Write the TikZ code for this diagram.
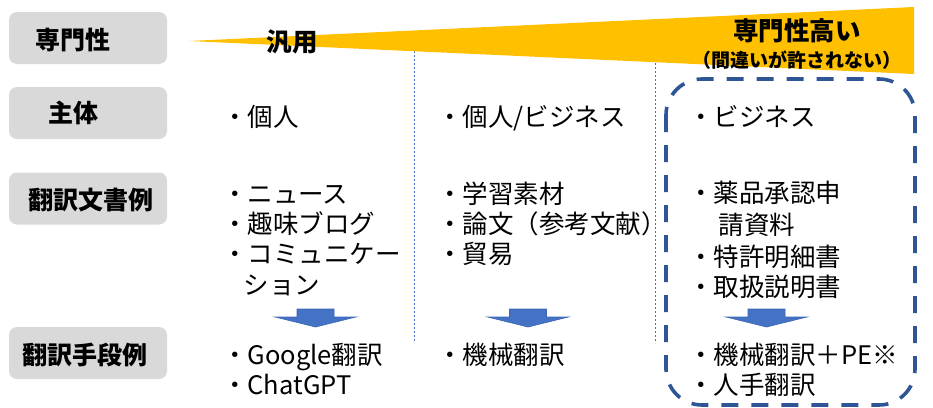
\documentclass[tikz,border=0pt]{standalone}
\usepackage{fontspec}
\setmainfont{Noto Sans CJK JP}
\definecolor{lblgray}{HTML}{D9D9D9}
\definecolor{wedgeyellow}{HTML}{FFC000}
\definecolor{sepblue}{HTML}{4472C4}
\definecolor{boxblue}{HTML}{2F5597}
\definecolor{arrowblue}{HTML}{4472C4}
\definecolor{arrowedge}{HTML}{3A66B5}
\tikzset{
  lblbox/.style={fill=lblgray, rounded corners=8pt, minimum width=158pt, minimum height=52pt, inner sep=0pt},
  lbltext/.style={font=\fontsize{25}{28}\selectfont\bfseries, inner sep=0pt},
  headtext/.style={font=\fontsize{25.5}{28}\selectfont\bfseries, inner sep=0pt},
  subtext/.style={font=\fontsize{19}{22}\selectfont\bfseries, inner sep=0pt},
  item/.style={font=\fontsize{25.5}{30}\selectfont, anchor=west, inner sep=0pt, text height=22.5pt, text depth=3pt},
  sepline/.style={draw=sepblue, line width=0.8pt, dash pattern=on 2pt off 2pt},
  dashbox/.style={draw=boxblue, line width=3.6pt, dash pattern=on 17pt off 13pt, rounded corners=36pt},
  blockarrow/.pic={
    \filldraw[fill=arrowblue, draw=arrowedge, line width=0.6pt]
      (-18.5,0) -- (18.5,0) -- (18.5,8) -- (40.5,8) -- (0,18) -- (-40.5,8) -- (-18.5,8) -- cycle;
  }
}
\begin{document}
\begin{tikzpicture}[x=1pt,y=-1pt]
\useasboundingbox (0,0) rectangle (933,407);

% label boxes
\node[lblbox] (b1) at (88,38) {};
\node[lblbox] (b2) at (88,113) {};
\node[lblbox] (b3) at (88,198.5) {};
\node[lblbox] (b4) at (88,353) {};
\node[lbltext] (t1) at (73,40) {専門性};
\node[lbltext] (t2) at (73,113) {主体};
\node[lbltext] (t3) at (91,200) {翻訳文書例};
\node[lbltext] (t4) at (85,355) {翻訳手段例};

% separators
\coordinate (s1a) at (414,43);
\coordinate (s1b) at (414,343);
\coordinate (s2a) at (655,43);
\coordinate (s2b) at (655,343);
\draw[sepline] (s1a) -- (s1b);
\draw[sepline] (s2a) -- (s2b);

% wedge
\fill[wedgeyellow] (189,41) -- (914,7) -- (914,74) -- cycle;
\node[headtext] (gen) at (292,42) {汎用};
\node[headtext] (spec) at (797,31) {専門性高い};
\node[subtext] (specsub) at (797,60) {（間違いが許されない）};

% dashed box
\draw[dashbox] (666,79) rectangle (915,405);

% column 1
\node[item] (c1a) at (222,117) {・個人};
\node[item] (c1b) at (222,194) {・ニュース};
\node[item] (c1c) at (222,224) {・趣味ブログ};
\node[item] (c1d) at (222,254) {・コミュニケー};
\node[item] (c1e) at (222,285) {\hspace{0.85em}ション};
\node[item] (c1f) at (222,355) {・Google翻訳};
\node[item] (c1g) at (222,385) {・ChatGPT};

% column 2
\node[item] (c2a) at (437,117) {・個人/ビジネス};
\node[item] (c2b) at (437,194) {・学習素材};
\node[item] (c2c) at (437,224) {・論文（参考文献）};
\node[item] (c2d) at (437,254) {・貿易};
\node[item] (c2e) at (437,355) {・機械翻訳};

% column 3
\node[item] (c3a) at (688,117) {・ビジネス};
\node[item] (c3b) at (688,193) {・薬品承認申};
\node[item] (c3c) at (688,225) {\hspace{1.2em}請資料};
\node[item] (c3d) at (688,257) {・特許明細書};
\node[item] (c3e) at (688,287) {・取扱説明書};
\node[item] (c3f) at (688,355) {・機械翻訳＋PE※};
\node[item] (c3g) at (688,385) {・人手翻訳};

% arrows
\pic at (315.5,309) {blockarrow};
\pic at (528,309) {blockarrow};
\pic at (766.5,309) {blockarrow};
\end{tikzpicture}
\end{document}
